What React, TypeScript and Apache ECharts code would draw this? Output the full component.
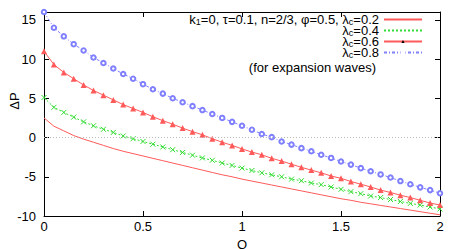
import React, { useEffect, useRef } from "react";
import * as echarts from "echarts";

const qValues = [
  0, 0.05, 0.1, 0.15, 0.2, 0.25, 0.3, 0.35, 0.4, 0.45, 0.5, 0.55, 0.6, 0.65, 0.7, 0.75, 0.8, 0.85, 0.9, 0.95,
  1.0, 1.05, 1.1, 1.15, 1.2, 1.25, 1.3, 1.35, 1.4, 1.45, 1.5, 1.55, 1.6, 1.65, 1.7, 1.75, 1.8, 1.85, 1.9, 1.95, 2.0,
];

const lambda02 = [
  2.5, 1.45, 0.85, 0.25, -0.2, -0.6, -1.0, -1.4, -1.75, -2.05, -2.35, -2.65, -2.95, -3.25, -3.55, -3.85, -4.15, -4.45, -4.75, -5.0,
  -5.3, -5.55, -5.8, -6.05, -6.3, -6.55, -6.8, -7.05, -7.3, -7.55, -7.8, -8.0, -8.25, -8.45, -8.65, -8.85, -9.05, -9.25, -9.45, -9.65, -9.85,
];

const lambda04 = [
  5.1, 3.85, 3.2, 2.6, 2.0, 1.5, 1.05, 0.65, 0.2, -0.15, -0.5, -0.85, -1.2, -1.55, -1.9, -2.25, -2.6, -2.9, -3.25, -3.55,
  -3.9, -4.2, -4.5, -4.75, -5.0, -5.3, -5.5, -5.8, -6.0, -6.3, -6.6, -6.9, -7.15, -7.45, -7.65, -7.9, -8.15, -8.4, -8.6, -8.85, -9.1,
];

const lambda06 = [
  11.0, 9.3, 8.3, 7.5, 6.7, 6.0, 5.4, 4.8, 4.2, 3.7, 3.2, 2.65, 2.15, 1.7, 1.2, 0.75, 0.35, -0.15, -0.6, -1.0,
  -1.45, -1.85, -2.2, -2.65, -3.0, -3.4, -3.8, -4.15, -4.5, -4.9, -5.2, -5.6, -5.95, -6.3, -6.7, -7.0, -7.35, -7.65, -8.0, -8.35, -8.6,
];

const lambda08 = [
  16.0, 14.0, 12.9, 11.9, 11.1, 10.2, 9.5, 8.8, 8.1, 7.5, 6.8, 6.15, 5.6, 5.0, 4.5, 4.0, 3.5, 3.0, 2.5, 2.0,
  1.5, 1.0, 0.45, 0.05, -0.5, -0.9, -1.35, -1.75, -2.2, -2.6, -3.05, -3.45, -3.9, -4.3, -4.7, -5.1, -5.55, -5.95, -6.35, -6.7, -7.1,
];

const seriesNames = [
  "k1=0, τ=0.1, n=2/3, φ=0.5, λc=0.2",
  "λc=0.4",
  "λc=0.6",
  "λc=0.8",
];

const xTicks = { min: 0, max: 2, interval: 0.5 };
const yTicks = { min: -10, max: 16, interval: 5 };
const xAxisName = "Q";
const yAxisName = "ΔP";
const noteText = "(for expansion waves)";

const FONT = "Liberation Sans, Arial, Helvetica, sans-serif";

function pairs(ys: number[]) {
  return qValues.map((q, i) => [q, ys[i]]);
}

function richName(name: string) {
  const parts: string[] = [];
  let rest = name;
  const re = /(k)(1)|(λ)(c)/;
  while (rest.length) {
    const m = rest.match(re);
    if (!m || m.index === undefined) {
      parts.push("{n|" + rest + "}");
      break;
    }
    const before = rest.slice(0, m.index) + (m[1] || m[3]);
    parts.push("{n|" + before + "}");
    parts.push("{s|" + (m[2] || m[4]) + "}");
    rest = rest.slice(m.index + m[0].length);
  }
  return parts.join("");
}

export default function App() {
  const ref = useRef<HTMLDivElement>(null);
  useEffect(() => {
    document.body.style.margin = "0";
    if (!ref.current) return;
    const chart = echarts.init(ref.current, null, { renderer: "svg" });
    const red = "#ff5a5a";
    const green = "#33dd33";
    const blue = "#7f7fff";
    const legendRich = {
      n: { fontSize: 13, fontFamily: FONT, color: "#000", lineHeight: 11 },
      s: { fontSize: 9, fontFamily: FONT, color: "#000", lineHeight: 7, padding: [4, 0, 0, 0] },
    };
    const legendTops = [13, 24, 35, 46];
    const legendItemStyles = [
      { opacity: 0 },
      undefined,
      undefined,
      { color: "#fff", borderColor: blue, borderWidth: 1 },
    ];
    const legends = seriesNames.map((name, i) => ({
      data: [name],
      right: 41,
      top: legendTops[i],
      orient: "vertical",
      align: "right",
      padding: 0,
      itemWidth: 38,
      itemHeight: 4,
      itemGap: 0,
      selectedMode: false,
      itemStyle: legendItemStyles[i],
      formatter: (n: string) => richName(n),
      textStyle: { fontFamily: FONT, fontSize: 13, color: "#000", rich: legendRich },
    }));
    const axisCommon = {
      type: "value",
      axisLine: { show: true, onZero: false, lineStyle: { color: "#000", width: 1 } },
      axisTick: { show: true, inside: true, length: 5, lineStyle: { color: "#000" } },
      splitLine: { show: false },
    };
    const option = {
      animation: false,
      backgroundColor: "#fff",
      grid: { left: 44, right: 24, top: 12, bottom: 33, containLabel: false, outerBoundsMode: "none" },
      title: {
        text: noteText,
        right: 88,
        top: 61,
        padding: 0,
        textStyle: { fontFamily: FONT, fontSize: 13, fontWeight: "normal", color: "#000" },
      },
      graphic: [
        {
          type: "text",
          x: 14,
          y: 101,
          rotation: Math.PI / 2,
          style: { text: yAxisName, fontFamily: FONT, fontSize: 13, fill: "#000", align: "center", verticalAlign: "middle" },
        },
      ],
      legend: legends,
      xAxis: [
        {
          ...axisCommon,
          position: "bottom",
          min: xTicks.min,
          max: xTicks.max,
          interval: xTicks.interval,
          name: xAxisName,
          nameLocation: "middle",
          nameGap: 16,
          nameTextStyle: { fontFamily: FONT, fontSize: 13, color: "#000", lineHeight: 13 },
          axisLabel: { fontFamily: FONT, fontSize: 13, color: "#000", margin: 4 },
        },
        {
          ...axisCommon,
          position: "top",
          min: xTicks.min,
          max: xTicks.max,
          interval: xTicks.interval,
          axisLabel: { show: false },
        },
      ],
      yAxis: [
        {
          ...axisCommon,
          position: "left",
          min: yTicks.min,
          max: yTicks.max,
          interval: yTicks.interval,
          axisLabel: {
            fontFamily: FONT,
            fontSize: 13,
            color: "#000",
            margin: 8,
            formatter: (v: number) => (v === yTicks.max ? "" : String(v)),
          },
        },
        {
          ...axisCommon,
          position: "right",
          min: yTicks.min,
          max: yTicks.max,
          interval: yTicks.interval,
          axisLabel: { show: false },
        },
      ],
      series: [
        {
          name: seriesNames[0],
          type: "line",
          data: pairs(lambda02),
          showSymbol: false,
          symbol: "none",
          lineStyle: { color: red, width: 1 },
          itemStyle: { color: red },
          markLine: {
            silent: true,
            symbol: "none",
            label: { show: false },
            lineStyle: { color: "#bbbbbb", type: [1, 2], width: 1 },
            data: [{ yAxis: 0 }],
          },
        },
        {
          name: seriesNames[1],
          type: "line",
          data: pairs(lambda04),
          symbol: "path://M0,0L10,10M10,0L0,10",
          symbolSize: 5,
          showAllSymbol: true,
          lineStyle: { color: green, width: 1, type: [2, 2] },
          itemStyle: { color: "none", borderColor: green, borderWidth: 1 },
        },
        {
          name: seriesNames[2],
          type: "line",
          data: pairs(lambda06),
          symbol: "triangle",
          symbolSize: 6,
          showAllSymbol: true,
          lineStyle: { color: red, width: 1 },
          itemStyle: { color: red },
        },
        {
          name: seriesNames[3],
          type: "line",
          data: pairs(lambda08),
          symbol: "emptyCircle",
          symbolSize: 4.5,
          showAllSymbol: true,
          lineStyle: { color: blue, width: 1, type: [3, 2, 1, 2] },
          itemStyle: { color: blue, borderWidth: 1 },
        },
      ],
    };
    chart.setOption(option as any);
    return () => chart.dispose();
  }, []);
  return <div ref={ref} style={{ width: 464, height: 249 }} />;
}
